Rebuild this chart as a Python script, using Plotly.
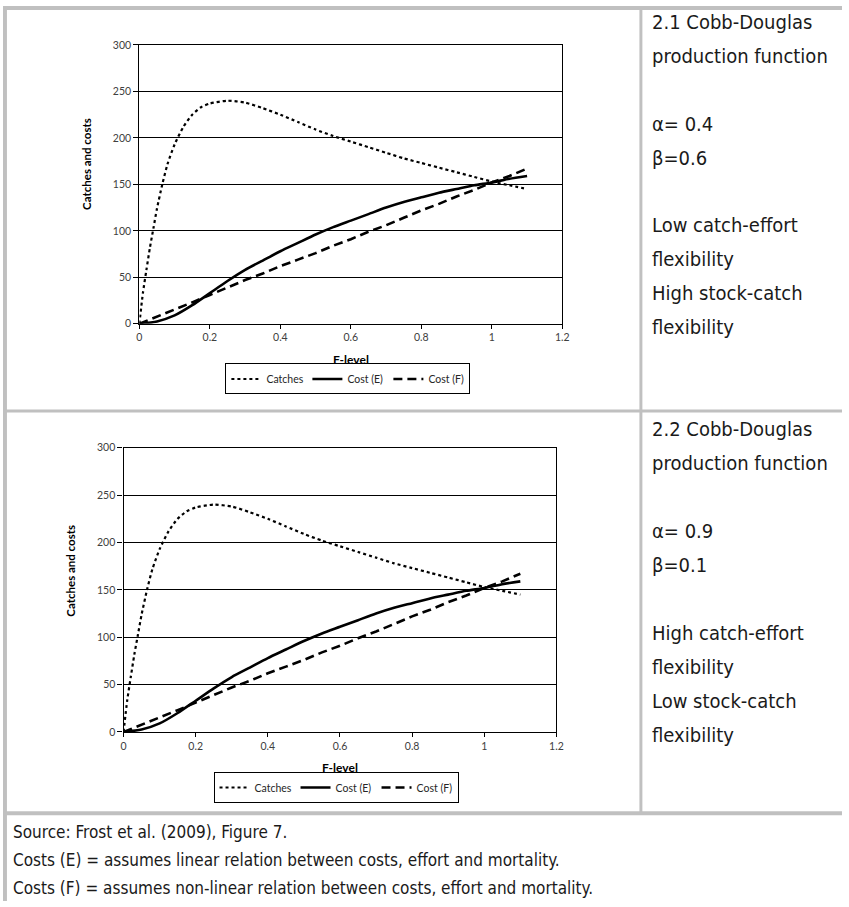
import plotly.graph_objects as go

W, H = 849, 907

# ---------------- data ----------------
f_catch = [0, 0.01, 0.02, 0.03, 0.04, 0.05, 0.065, 0.08, 0.1, 0.125, 0.15, 0.175, 0.2, 0.25,
           0.3, 0.35, 0.4, 0.45, 0.5, 0.55, 0.6, 0.65, 0.7, 0.75, 0.8, 0.85, 0.9, 0.95, 1.0, 1.05, 1.1]
catches_1 = [0, 33, 58, 82, 103, 124, 150, 172, 193, 212, 225, 233, 237, 240,
             238, 232, 225, 217, 209, 202, 196, 190, 184, 178, 173, 168, 163, 158, 153, 149, 145]
catches_2 = [0, 33, 58, 82, 103, 124, 150, 172, 193, 212, 225, 233, 237, 240,
             238, 232, 225, 217, 209, 202, 196, 190, 184, 178, 173, 168, 163, 158, 153, 149, 145]

f_cost = [0, 0.05, 0.1, 0.15, 0.2, 0.25, 0.3, 0.35, 0.4, 0.45, 0.5, 0.55, 0.6, 0.65, 0.7,
          0.75, 0.8, 0.85, 0.9, 0.95, 1.0, 1.05, 1.1]
cost_e_1 = [0, 2.5, 9, 20, 33, 46, 58, 68, 78, 87, 96, 104, 111, 118, 125, 131, 136, 141, 145, 149, 152, 156, 159]
cost_f_1 = [0, 7.5, 15, 23, 31, 39, 47, 54, 62, 69, 76, 84, 91, 99, 106, 114, 122, 129, 137, 144, 152, 159, 167]
cost_e_2 = [0, 2.5, 9, 20, 33, 46, 58, 68, 78, 87, 96, 104, 111, 118, 125, 131, 136, 141, 145, 149, 152, 156, 159]
cost_f_2 = [0, 7.5, 15, 23, 31, 39, 47, 54, 62, 69, 76, 84, 91, 99, 106, 114, 122, 129, 137, 144, 152, 159, 167]

series_names = ["Catches", "Cost (E)", "Cost (F)"]
x_title = "F-level"
y_title = "Catches and costs"

panel_text_1 = ["2.1 Cobb-Douglas", "production function", "", "\u03b1= 0.4", "\u03b2=0.6", "",
                "Low catch-effort", "flexibility", "High stock-catch", "flexibility"]
panel_text_2 = ["2.2 Cobb-Douglas", "production function", "", "\u03b1= 0.9", "\u03b2=0.1", "",
                "High catch-effort", "flexibility", "Low stock-catch", "flexibility"]
footer_lines = ["Source: Frost et al. (2009), Figure 7.",
                "Costs (E) = assumes linear relation between costs, effort and mortality.",
                "Costs (F) = assumes non-linear relation between costs, effort and mortality."]

# ---------------- helpers ----------------
def px(x):
    return x / W

def py(y):
    return 1 - y / H

CHART_FONT = "Lato, Carlito, Calibri, Liberation Sans, sans-serif"
LEGEND_FONT = "Liberation Sans Narrow, Arial Narrow, Lato, sans-serif"
TEXT_FONT = "DejaVu Sans Condensed, Liberation Sans, sans-serif"

fig = go.Figure()

def add_series(fc, cat, fe, ce, cf, xa, ya, leg):
    fig.add_trace(go.Scatter(x=fc, y=cat, name=series_names[0], mode="lines",
                             line=dict(color="black", width=2.2, dash="dot", shape="spline", smoothing=0.6),
                             xaxis=xa, yaxis=ya, legend=leg))
    fig.add_trace(go.Scatter(x=fe, y=ce, name=series_names[1], mode="lines",
                             line=dict(color="black", width=2.6, shape="spline", smoothing=0.6),
                             xaxis=xa, yaxis=ya, legend=leg))
    fig.add_trace(go.Scatter(x=fe, y=cf, name=series_names[2], mode="lines",
                             line=dict(color="black", width=2.6, dash="9px,5px"),
                             xaxis=xa, yaxis=ya, legend=leg))

add_series(f_catch, catches_1, f_cost, cost_e_1, cost_f_1, "x", "y", "legend")
add_series(f_catch, catches_2, f_cost, cost_e_2, cost_f_2, "x2", "y2", "legend2")

# chart geometry (pixels)
c1 = dict(x0=138, x1=566, y0=322, y1=39.5)
c2 = dict(x0=122, x1=560, y0=735.7, y1=447.7)

def xaxis_cfg(c, anchor):
    return dict(domain=[px(c["x0"]), px(c["x1"])], range=[0, 1.2], dtick=0.2, tick0=0,
                showgrid=False, zeroline=False, showline=True, linecolor="black", linewidth=1.3,
                mirror=True, ticks="outside", ticklen=4, tickcolor="black", tickwidth=1,
                tickfont=dict(family=CHART_FONT, size=10.5, color="#404040"),
                anchor=anchor, fixedrange=True)

def yaxis_cfg(c, anchor):
    return dict(domain=[py(c["y0"]), py(c["y1"])], range=[0, 300], dtick=50, tick0=0,
                showgrid=True, gridcolor="black", gridwidth=1, zeroline=False,
                showline=True, linecolor="black", linewidth=1.3, mirror=True,
                ticks="outside", ticklen=5, tickcolor="black", tickwidth=1,
                tickfont=dict(family=CHART_FONT, size=10.5, color="#404040"),
                anchor=anchor, fixedrange=True)

def legend_cfg(cx, cy):
    return dict(orientation="h", x=px(cx), y=py(cy), xanchor="center", yanchor="middle",
                bordercolor="black", borderwidth=1, bgcolor="white",
                font=dict(family=LEGEND_FONT, size=10.5, color="#262626"),
                itemwidth=30, entrywidth=36, entrywidthmode="pixels",
                tracegroupgap=0, itemclick=False, itemdoubleclick=False)

annotations = []

def axis_titles(fx, fy, yx, yy):
    annotations.append(dict(text="<b>%s</b>" % x_title, x=px(fx), y=py(fy), xref="paper", yref="paper",
                            showarrow=False, xanchor="center", yanchor="middle",
                            font=dict(family=CHART_FONT, size=12, color="black")))
    annotations.append(dict(text="<b>%s</b>" % y_title, x=px(yx), y=py(yy), xref="paper", yref="paper",
                            showarrow=False, xanchor="center", yanchor="middle", textangle=-90,
                            font=dict(family=CHART_FONT, size=11.5, color="black")))

axis_titles(352, 358, 85, 160)
axis_titles(341, 772, 68, 572)

def panel_text(lines, top, step):
    y = top
    for ln in lines:
        if ln:
            annotations.append(dict(text=ln, x=px(655), y=py(y), xref="paper", yref="paper",
                                    showarrow=False, xanchor="left", yanchor="middle",
                                    font=dict(family=TEXT_FONT, size=20, color="#1a1a1a")))
        y += step

panel_text(panel_text_1, 16, 34.4)
panel_text(panel_text_2, 429, 34.4)

for i, ln in enumerate(footer_lines):
    annotations.append(dict(text=ln, x=px(8), y=py(837 + i * 28.5), xref="paper", yref="paper",
                            showarrow=False, xanchor="left", yanchor="middle",
                            font=dict(family=TEXT_FONT, size=17, color="#1a1a1a")))

# gray table frame
GRAY = "#c0c0c0"
def rect(x0, y0, x1, y1):
    return dict(type="rect", xref="paper", yref="paper", x0=px(x0), x1=px(x1), y0=py(y1), y1=py(y0),
                fillcolor=GRAY, line=dict(width=0), layer="above")

shapes = [
    rect(0, 0, W, 4),        # top
    rect(0, 0, 4, H),        # left
    rect(644, 0, 647, 818),  # vertical divider
    rect(0, 409, W, 412),    # row divider
    rect(0, 816, W, 820),    # footer divider
]

fig.update_layout(
    width=W, height=H, autosize=False,
    margin=dict(l=0, r=0, t=0, b=0, pad=0),
    paper_bgcolor="white", plot_bgcolor="white",
    xaxis=xaxis_cfg(c1, "y"), yaxis=yaxis_cfg(c1, "x"),
    xaxis2=xaxis_cfg(c2, "y2"), yaxis2=yaxis_cfg(c2, "x2"),
    legend=legend_cfg(349, 378),
    legend2=legend_cfg(337, 792),
    annotations=annotations,
    shapes=shapes,
    showlegend=True,
)

fig.write_html("out.html", config={"displayModeBar": False},
               post_script="document.body.style.margin='0px';document.body.style.overflow='hidden';")
